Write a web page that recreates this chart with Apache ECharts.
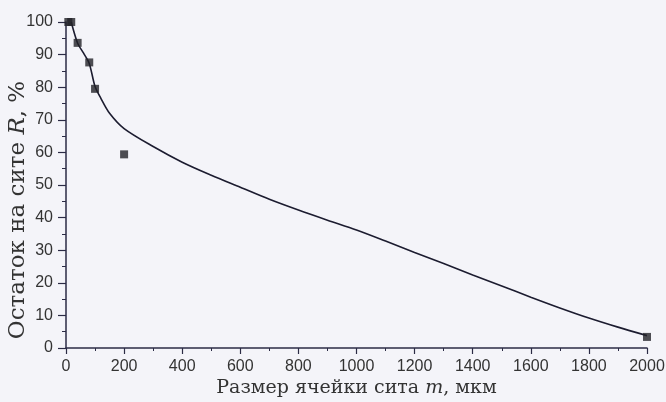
<!DOCTYPE html>
<html>
<head>
<meta charset="utf-8">
<script src="https://cdn.jsdelivr.net/npm/echarts@6/dist/echarts.min.js"></script>
<style>
html,body{margin:0;padding:0;background:#f4f4f9;}
#c{width:666px;height:402px;}
</style>
</head>
<body>
<div id="c"></div>
<script>
// Measured points (sieve mesh size, µm -> residue, %)
var pointX = [8, 18, 40, 80, 100, 200, 2000];
var pointY = [100, 100, 93.6, 87.6, 79.5, 59.4, 3.4];
// Fitted curve
var curveX = [18, 40, 60, 80, 100, 120, 150, 200, 300, 400, 500, 600, 700, 800, 900, 1000, 1100, 1200, 1300, 1400, 1500, 1600, 1700, 1800, 1900, 2000];
var curveY = [100, 93.5, 90.5, 87.3, 80.2, 76.6, 72.0, 67.3, 61.8, 57.0, 53.0, 49.3, 45.6, 42.3, 39.2, 36.2, 32.8, 29.3, 25.9, 22.4, 19.0, 15.6, 12.3, 9.2, 6.4, 3.8];
var xTicks = {min: 0, max: 2000, interval: 200};
var yTicks = {min: 0, max: 100, interval: 10};

var chart = echarts.init(document.getElementById('c'));
var axisCol = '#2b2b45';
var curve = curveX.map(function(x, i){ return [x, curveY[i]]; });
var pts = pointX.map(function(x, i){ return [x, pointY[i]]; });
function plain(v){ return String(v); }
chart.setOption({
  backgroundColor: '#f4f4f9',
  animation: false,
  grid: {left: 66, right: 19, top: 22, bottom: 54, containLabel: false, outerBoundsMode: 'none'},
  xAxis: {
    type: 'value', min: xTicks.min, max: xTicks.max, interval: xTicks.interval,
    axisLine: {lineStyle: {color: axisCol, width: 1.5}},
    axisTick: {length: 6, lineStyle: {color: axisCol, width: 1.2}},
    minorTick: {show: true, splitNumber: 2, length: 3, lineStyle: {color: axisCol}},
    splitLine: {show: false},
    axisLabel: {color: '#333', fontFamily: 'Liberation Sans', fontSize: 16, margin: 11, formatter: plain},
    name: 'Размер ячейки сита {i|m}, мкм',
    nameLocation: 'middle', nameGap: 31, nameMoveOverlap: false,
    nameTextStyle: {color: '#333', fontFamily: 'DejaVu Serif', fontSize: 19,
      rich: {i: {fontStyle: 'italic', fontFamily: 'DejaVu Serif', fontSize: 19, color: '#333'}}}
  },
  yAxis: {
    type: 'value', min: yTicks.min, max: yTicks.max, interval: yTicks.interval,
    axisLine: {show: true, lineStyle: {color: axisCol, width: 1.5}},
    axisTick: {show: true, length: 8, lineStyle: {color: axisCol, width: 1.2}},
    minorTick: {show: true, splitNumber: 2, length: 4, lineStyle: {color: axisCol}},
    splitLine: {show: false},
    axisLabel: {color: '#333', fontFamily: 'Liberation Sans', fontSize: 16, margin: 13, formatter: plain},
    name: 'Остаток на сите {i|R}, %',
    nameLocation: 'middle', nameGap: 36, nameRotate: 90, nameMoveOverlap: false,
    nameTextStyle: {color: '#333', fontFamily: 'DejaVu Serif', fontSize: 23, padding: [0, 50, 0, 0],
      rich: {i: {fontStyle: 'italic', fontFamily: 'DejaVu Serif', fontSize: 23, color: '#333'}}}
  },
  series: [
    {type: 'line', data: curve, smooth: 0.3, showSymbol: false, symbol: 'none',
     lineStyle: {color: '#1c1c30', width: 1.6}, z: 2},
    {type: 'scatter', data: pts, symbol: 'rect', symbolSize: 8,
     itemStyle: {color: '#222228'}, z: 3}
  ]
});
</script>
</body>
</html>
